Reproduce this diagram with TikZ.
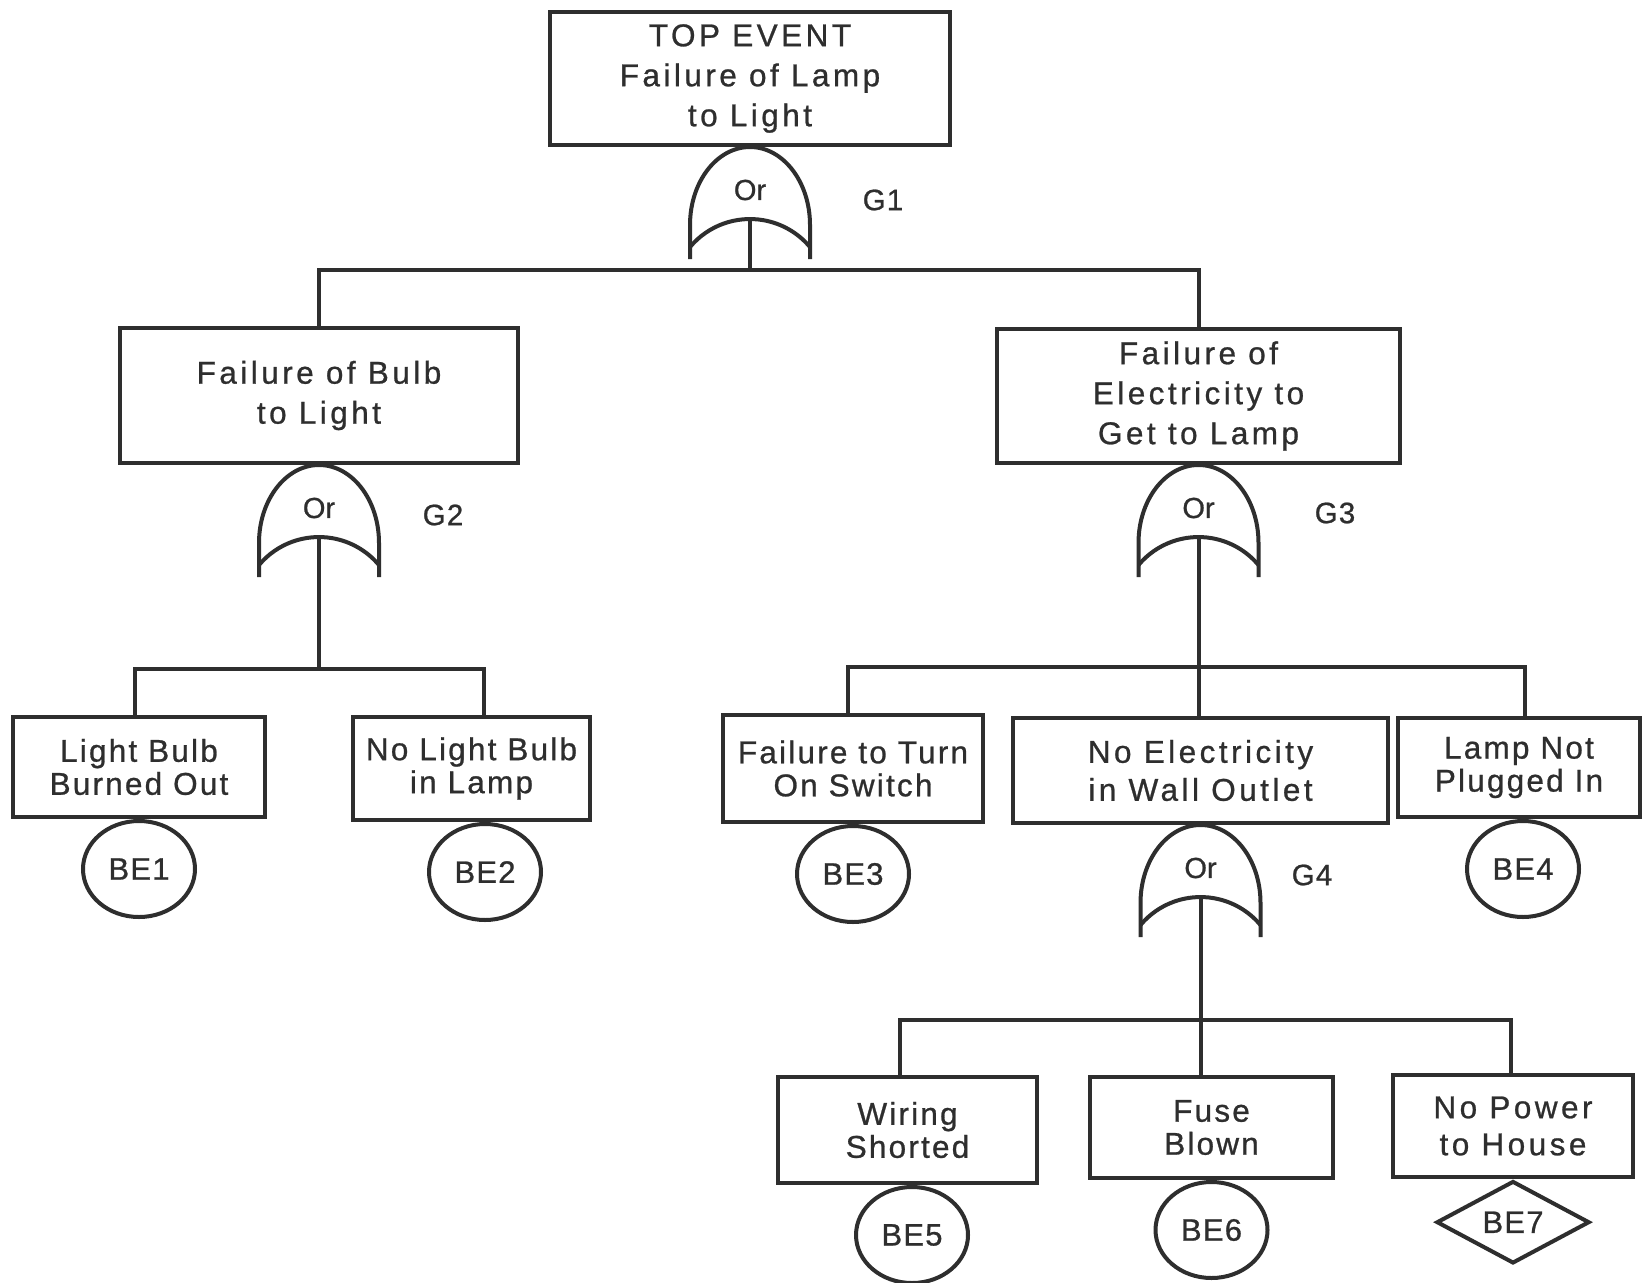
\documentclass[tikz,border=0pt]{standalone}
\usepackage{fontspec}
\setmainfont[FakeBold=0.8]{Liberation Sans}
\newfontfamily\wideface[LetterSpace=11,FakeBold=0.8]{Liberation Sans}
\newfontfamily\tightface[LetterSpace=7,FakeBold=0.8]{Liberation Sans}
\newfontfamily\codeface[LetterSpace=4,FakeBold=0.8]{Liberation Sans}
\usetikzlibrary{shapes.geometric}
\definecolor{ink}{HTML}{2E2E2E}

\begin{document}
\begin{tikzpicture}[x=1pt,y=1pt,
  wire/.style={draw=ink, line width=4pt},
  evbox/.style={wire, rectangle, inner sep=0pt, align=center, text=ink},
  topbox/.style={evbox, font=\wideface\fontsize{31.5}{40}\selectfont},
  lowbox/.style={evbox, font=\tightface\fontsize{31.5}{33}\selectfont},
  basic/.style={wire, ellipse, minimum width=112pt, minimum height=96pt,
    inner sep=0pt, anchor=north, text=ink, font=\codeface\fontsize{31}{33}\selectfont},
  undev/.style={wire, diamond, minimum width=153pt, minimum height=72pt,
    inner sep=0pt, anchor=north, text=ink, font=\codeface\fontsize{31}{33}\selectfont},
  gatetext/.style={text=ink, inner sep=0pt, font=\fontsize{29}{31}\selectfont},
  glabel/.style={text=ink, inner sep=0pt, font=\codeface\fontsize{29.5}{31}\selectfont},
  orgate/.pic={
    \draw[wire] (-60,-112) -- (-60,-78)
      arc[start angle=180, end angle=0, x radius=60pt, y radius=78pt] -- (60,-112);
    \draw[wire] (-60,-100) arc[start angle=140, end angle=40, radius=78.3pt];
    \node[gatetext] (-or) at (0,-43) {Or};
    \coordinate (-out) at (0,-72);
  }
]
\fill[white] (0,0) rectangle (1643,-1282);
\useasboundingbox (0,0) rectangle (1643,-1282);

% top event and first gate
\node[topbox, minimum width=400pt, minimum height=133pt] (top) at (750,-78.5)
  {TOP EVENT\\Failure of Lamp\\to Light};
\pic (g1) at (top.south) {orgate};
\node[glabel] (g1lab) at (883,-200) {G1};
\coordinate (j1) at ([yshift=-123pt]top.south);

\node[topbox, minimum width=398pt, minimum height=135pt] (bulb) at (319,-395.5)
  {Failure of Bulb\\to Light};
\node[topbox, minimum width=403pt, minimum height=134pt] (elec) at (1198.5,-396)
  {Failure of\\Electricity to\\Get to Lamp};
\draw[wire] (g1-out) -- (j1) -| (bulb.north);
\draw[wire] (j1) -| (elec.north);

% bulb branch
\pic (g2) at (bulb.south) {orgate};
\node[glabel] (g2lab) at (443,-515) {G2};
\coordinate (j2) at ([yshift=-204pt]bulb.south);
\node[lowbox, minimum width=252pt, minimum height=100pt] (burned) at (139,-767)
  {Light Bulb\\Burned Out};
\node[lowbox, minimum width=237pt, minimum height=103pt] (nobulb) at (471.5,-768.5)
  {No Light Bulb\\in Lamp};
\draw[wire] (g2-out) -- (j2) -| ([xshift=-4pt]burned.north);
\draw[wire] (j2) -| ([xshift=12.5pt]nobulb.north);
\node[basic] (be1) at (burned.south) {BE1};
\node[basic] (be2) at ([xshift=13.5pt]nobulb.south) {BE2};

% electricity branch
\pic (g3) at (elec.south) {orgate};
\node[glabel] (g3lab) at (1335,-513) {G3};
\coordinate (j3) at ([yshift=-202pt]elec.south);
\node[lowbox, minimum width=260pt, minimum height=107pt] (switch) at (853,-768.5)
  {Failure to Turn\\On Switch};
\node[topbox, font=\wideface\fontsize{31.5}{38}\selectfont,
  minimum width=375pt, minimum height=105pt] (outlet) at (1200.5,-770.5)
  {No Electricity\\in Wall Outlet};
\node[lowbox, minimum width=242pt, minimum height=99pt] (plug) at (1519,-767.5)
  {Lamp Not\\Plugged In};
\draw[wire] (g3-out) -- (j3) -- (j3 |- outlet.north);
\draw[wire] (j3) -| ([xshift=-5pt]switch.north);
\draw[wire] (j3) -| ([xshift=6pt]plug.north);
\node[basic] (be3) at (switch.south) {BE3};
\node[basic] (be4) at ([xshift=4pt]plug.south) {BE4};

% wall outlet branch
\pic (g4) at (outlet.south) {orgate};
\node[glabel] (g4lab) at (1312,-875) {G4};
\coordinate (j4) at ([yshift=-195pt]outlet.south);
\node[lowbox, minimum width=259pt, minimum height=106pt] (wiring) at (907.5,-1130)
  {Wiring\\Shorted};
\node[lowbox, minimum width=243pt, minimum height=101pt] (fuse) at (1211.5,-1127.5)
  {Fuse\\Blown};
\node[lowbox, font=\wideface\fontsize{31.5}{37}\selectfont,
  minimum width=240pt, minimum height=102pt] (power) at (1513,-1126)
  {No Power\\to House};
\draw[wire] (g4-out) -- (j4) -- (j4 |- fuse.north);
\draw[wire] (j4) -| ([xshift=-7.5pt]wiring.north);
\draw[wire] (j4) -| ([xshift=-2pt]power.north);
\node[basic] (be5) at ([xshift=4.5pt]wiring.south) {BE5};
\node[basic] (be6) at (fuse.south) {BE6};
\node[undev] (be7) at (power.south) {BE7};
\end{tikzpicture}
\end{document}
